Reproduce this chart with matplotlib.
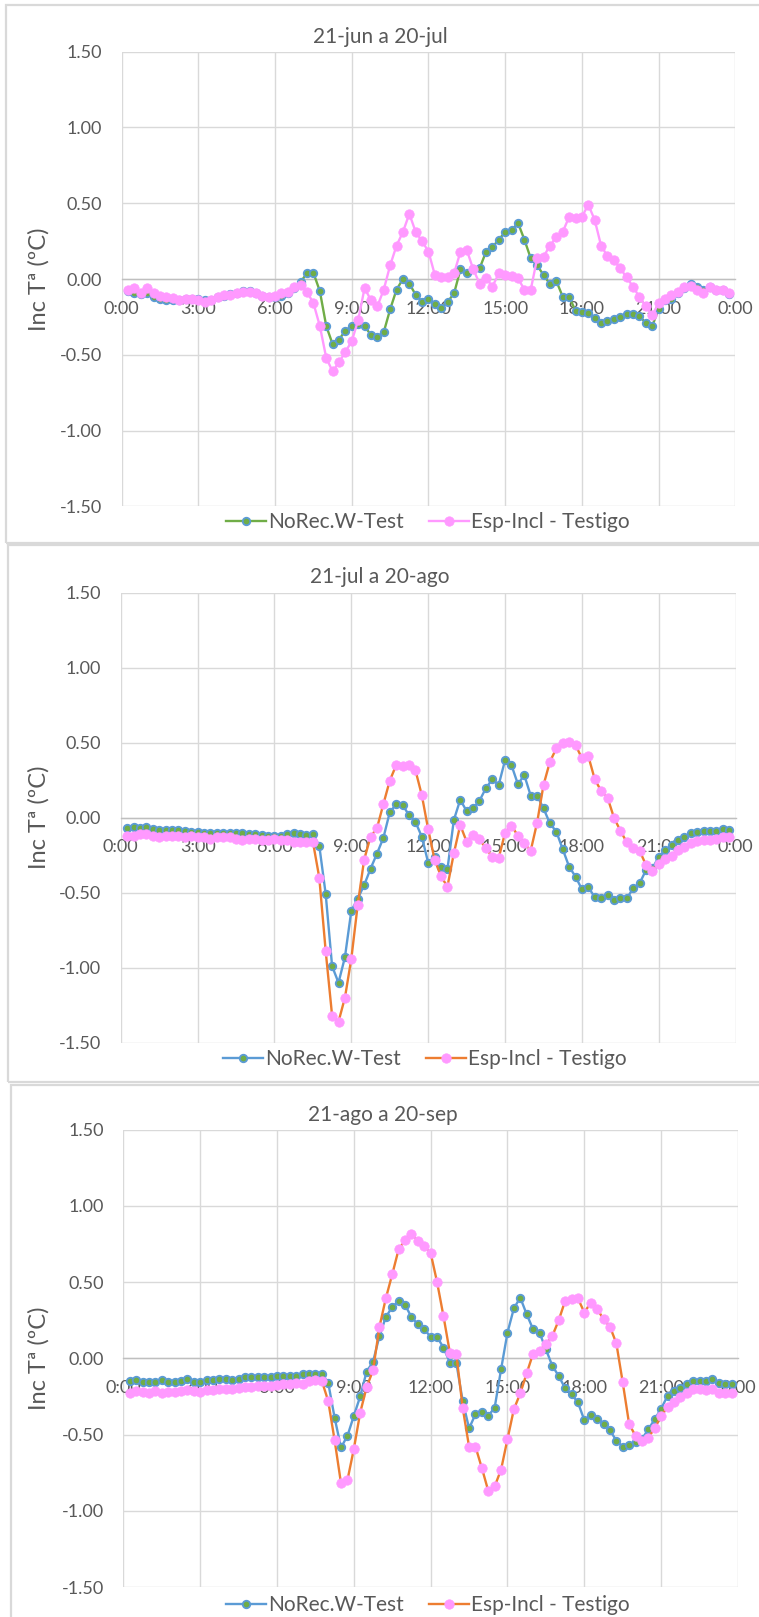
import matplotlib
matplotlib.use("Agg")
import matplotlib.pyplot as plt
from matplotlib.patches import Rectangle
import numpy as np

plt.rcParams['font.family'] = ['Lato', 'DejaVu Sans']

# Time of day (hours) for the 15-minute readings, 0:15 .. 23:45
hours = np.arange(0.25, 24.0, 0.25)

x_ticks = [0, 3, 6, 9, 12, 15, 18, 21, 24]
x_tick_labels = ['0:00', '3:00', '6:00', '9:00', '12:00', '15:00', '18:00', '21:00', '0:00']
y_ticks = [-1.5, -1.0, -0.5, 0.0, 0.5, 1.0, 1.5]
y_tick_labels = ['-1.50', '-1.00', '-0.50', '0.00', '0.50', '1.00', '1.50']

titles = ['21-jun a 20-jul', '21-jul a 20-ago', '21-ago a 20-sep']
series_names = ['NoRec.W-Test', 'Esp-Incl - Testigo']
y_label = 'Inc Tª (ºC)'

# --- 21-jun a 20-jul ---
jun_norec = [
    -0.08, -0.09, -0.10, -0.09, -0.12, -0.13, -0.14, -0.14, -0.14, -0.13, -0.13, -0.13,
    -0.14, -0.14, -0.12, -0.11, -0.10, -0.09, -0.08, -0.08, -0.09, -0.11, -0.12, -0.12,
    -0.11, -0.09, -0.06, -0.02, 0.04, 0.04, -0.08, -0.31, -0.43, -0.40, -0.34, -0.31,
    -0.30, -0.31, -0.37, -0.38, -0.35, -0.20, -0.07, 0.00, -0.03, -0.105, -0.15, -0.135,
    -0.165, -0.19, -0.15, -0.095, 0.064, 0.042, 0.066, 0.07, 0.18, 0.21, 0.26, 0.31,
    0.32, 0.37, 0.26, 0.136, 0.09, 0.026, -0.033, -0.013, -0.117, -0.117, -0.21, -0.22,
    -0.226, -0.26, -0.29, -0.275, -0.266, -0.25, -0.233, -0.23, -0.244, -0.29, -0.31, -0.20,
    -0.14, -0.13, -0.095, -0.06, -0.03, -0.05, -0.07, -0.05, -0.07, -0.07, -0.10,
]
jun_espincl = [
    -0.07, -0.06, -0.09, -0.06, -0.095, -0.11, -0.12, -0.125, -0.14, -0.13, -0.13, -0.14,
    -0.15, -0.14, -0.12, -0.105, -0.105, -0.09, -0.085, -0.085, -0.095, -0.11, -0.12, -0.115,
    -0.095, -0.085, -0.05, -0.04, -0.085, -0.16, -0.31, -0.52, -0.61, -0.55, -0.48, -0.41,
    -0.27, -0.06, -0.14, -0.18, -0.07, 0.09, 0.22, 0.31, 0.43, 0.31, 0.25, 0.18,
    0.026, 0.01, 0.01, 0.037, 0.18, 0.19, 0.064, -0.03, 0.005, -0.05, 0.037, 0.026,
    0.02, 0.005, -0.07, -0.07, 0.136, 0.147, 0.22, 0.275, 0.31, 0.41, 0.40, 0.41,
    0.49, 0.39, 0.22, 0.15, 0.125, 0.07, 0.01, -0.05, -0.12, -0.18, -0.24, -0.16,
    -0.13, -0.105, -0.085, -0.05, -0.046, -0.07, -0.09, -0.055, -0.07, -0.07, -0.095,
]

# --- 21-jul a 20-ago ---
jul_norec = [
    -0.07, -0.065, -0.07, -0.065, -0.075, -0.08, -0.08, -0.08, -0.085, -0.09, -0.095, -0.095,
    -0.10, -0.10, -0.105, -0.10, -0.10, -0.10, -0.105, -0.11, -0.11, -0.115, -0.12, -0.12,
    -0.12, -0.11, -0.105, -0.11, -0.115, -0.11, -0.187, -0.51, -0.99, -1.10, -0.93, -0.62,
    -0.54, -0.45, -0.34, -0.24, -0.135, 0.036, 0.09, 0.084, 0.018, -0.027, -0.127, -0.30,
    -0.26, -0.33, -0.345, -0.016, 0.12, 0.044, 0.062, 0.113, 0.196, 0.256, 0.218, 0.384,
    0.35, 0.224, 0.284, 0.147, 0.147, 0.062, -0.038, -0.093, -0.21, -0.327, -0.393, -0.478,
    -0.464, -0.53, -0.538, -0.515, -0.549, -0.538, -0.538, -0.471, -0.438, -0.349, -0.338, -0.26,
    -0.216, -0.182, -0.149, -0.131, -0.104, -0.093, -0.087, -0.087, -0.087, -0.078, -0.082,
]
jul_espincl = [
    -0.12, -0.12, -0.11, -0.11, -0.12, -0.13, -0.12, -0.12, -0.12, -0.13, -0.12, -0.13,
    -0.13, -0.14, -0.13, -0.13, -0.13, -0.14, -0.15, -0.14, -0.14, -0.15, -0.15, -0.14,
    -0.15, -0.15, -0.16, -0.16, -0.16, -0.16, -0.40, -0.89, -1.32, -1.36, -1.20, -0.94,
    -0.58, -0.28, -0.127, -0.07, 0.09, 0.247, 0.35, 0.344, 0.35, 0.318, 0.151, -0.078,
    -0.28, -0.39, -0.46, -0.238, -0.049, -0.16, -0.116, -0.144, -0.204, -0.26, -0.27, -0.10,
    -0.053, -0.12, -0.17, -0.22, -0.033, 0.218, 0.373, 0.462, 0.50, 0.507, 0.484, 0.396,
    0.41, 0.256, 0.178, 0.133, 0.0, -0.087, -0.164, -0.204, -0.22, -0.316, -0.353, -0.309,
    -0.278, -0.256, -0.216, -0.193, -0.171, -0.156, -0.149, -0.149, -0.144, -0.131, -0.131,
]

# --- 21-ago a 20-sep ---
ago_norec = [
    -0.148, -0.144, -0.157, -0.157, -0.153, -0.144, -0.157, -0.157, -0.148, -0.135, -0.157, -0.157,
    -0.144, -0.144, -0.135, -0.135, -0.14, -0.135, -0.12, -0.12, -0.12, -0.12, -0.12, -0.114,
    -0.114, -0.114, -0.114, -0.105, -0.105, -0.10, -0.10, -0.16, -0.39, -0.585, -0.51, -0.378,
    -0.25, -0.087, -0.024, 0.146, 0.27, 0.336, 0.376, 0.35, 0.27, 0.223, 0.19, 0.14,
    0.14, 0.07, -0.028, -0.028, -0.28, -0.46, -0.367, -0.35, -0.378, -0.323, -0.072, 0.168,
    0.328, 0.397, 0.288, 0.19, 0.168, 0.059, -0.05, -0.116, -0.197, -0.236, -0.29, -0.406,
    -0.371, -0.40, -0.428, -0.472, -0.54, -0.58, -0.568, -0.552, -0.53, -0.465, -0.40, -0.33,
    -0.247, -0.218, -0.192, -0.166, -0.148, -0.148, -0.148, -0.138, -0.16, -0.17, -0.17,
]
ago_espincl = [
    -0.225, -0.215, -0.22, -0.225, -0.215, -0.225, -0.22, -0.22, -0.215, -0.21, -0.215, -0.22,
    -0.21, -0.205, -0.20, -0.20, -0.20, -0.195, -0.19, -0.19, -0.185, -0.18, -0.18, -0.175,
    -0.17, -0.17, -0.165, -0.17, -0.148, -0.144, -0.148, -0.28, -0.537, -0.82, -0.80, -0.596,
    -0.356, -0.19, -0.079, 0.205, 0.393, 0.55, 0.714, 0.773, 0.817, 0.769, 0.736, 0.69,
    0.50, 0.277, 0.037, 0.03, -0.323, -0.58, -0.58, -0.72, -0.87, -0.84, -0.73, -0.53,
    -0.334, -0.23, -0.098, 0.03, 0.05, 0.092, 0.146, 0.249, 0.376, 0.386, 0.393, 0.30,
    0.364, 0.325, 0.255, 0.207, 0.098, -0.159, -0.432, -0.509, -0.54, -0.52, -0.458, -0.378,
    -0.319, -0.29, -0.253, -0.225, -0.203, -0.203, -0.21, -0.203, -0.225, -0.225, -0.225,
]

W, H = 759, 1617
DPI = 100
TEXT = '#595959'
GRID = '#d9d9d9'
AXIS = '#bfbfbf'
GREEN = '#70ad47'
BLUE = '#5b9bd5'
ORANGE = '#ed7d31'
PINK = '#ff99ff'

fig = plt.figure(figsize=(W / DPI, H / DPI), dpi=DPI)
fig.patch.set_facecolor('white')


def fx(x):
    return x / W


def fy(y):
    return 1 - y / H


# Chart frames (pixel boxes: left, top, right, bottom)
frames = [(6, 5, 780, 543), (8, 545, 780, 1082), (10.5, 1085, 780, 1640)]
for (l, t, r, b) in frames:
    fig.patches.append(Rectangle((fx(l), fy(b)), fx(r - l), (b - t) / H,
                                 transform=fig.transFigure, fill=False,
                                 edgecolor=GRID, linewidth=1.6, zorder=0))

# Plot areas (pixel boxes) and text positions
plot_boxes = [(121.7, 51.6, 735.3, 506.4), (120.7, 592.7, 735.7, 1042.7), (123.3, 1129.5, 738.0, 1587.0)]
title_pos = [(380, 37), (380, 577), (383, 1115)]
legend_pos = [(428, 522), (425, 1059), (428, 1605)]
line_colors = [(GREEN, PINK), (BLUE, ORANGE), (BLUE, ORANGE)]
panel_data = [(jun_norec, jun_espincl), (jul_norec, jul_espincl), (ago_norec, ago_espincl)]

for k in range(3):
    l, t, r, b = plot_boxes[k]
    ax = fig.add_axes([fx(l), fy(b), fx(r - l), (b - t) / H])
    ax.set_facecolor('none')
    norec, espincl = panel_data[k]
    c1, c2 = line_colors[k]

    h1, = ax.plot(hours, norec, color=c1, lw=1.7, marker='o', ms=5.4,
                  mfc=GREEN, mec=BLUE, mew=1.3, label=series_names[0], zorder=3)
    h2, = ax.plot(hours, espincl, color=c2, lw=1.7, marker='o', ms=6.8,
                  mfc=PINK, mec=PINK, mew=0.5, label=series_names[1], zorder=4)

    ax.set_xlim(0, 24)
    ax.set_ylim(-1.5, 1.5)
    ax.set_xticks(x_ticks)
    ax.set_xticklabels(x_tick_labels)
    ax.set_yticks(y_ticks)
    ax.set_yticklabels(y_tick_labels)
    ax.grid(True, color=GRID, lw=1.0, zorder=0)
    ax.set_axisbelow(True)
    for s in ('top', 'right', 'left'):
        ax.spines[s].set_visible(False)
    ax.spines['bottom'].set_position(('data', 0))
    ax.spines['bottom'].set_color(AXIS)
    ax.spines['bottom'].set_linewidth(1.0)
    ax.tick_params(axis='x', length=0, pad=15.5, labelsize=13, labelcolor=TEXT)
    ax.tick_params(axis='y', length=0, pad=14, labelsize=13, labelcolor=TEXT)

    fig.text(fx(title_pos[k][0]), fy(title_pos[k][1]), titles[k], ha='center', va='center',
             fontsize=15, color=TEXT)
    fig.text(fx(39), fy((t + b) / 2), y_label, rotation=90, ha='center', va='center',
             fontsize=17, color=TEXT)
    fig.legend(handles=[h1, h2], loc='center', ncol=2, frameon=False,
               bbox_to_anchor=(fx(legend_pos[k][0]), fy(legend_pos[k][1])),
               bbox_transform=fig.transFigure, fontsize=15, labelcolor=TEXT,
               handlelength=1.9, handletextpad=0.12, columnspacing=1.2,
               borderpad=0, borderaxespad=0)

fig.savefig('out.png', dpi=DPI, facecolor='white')
